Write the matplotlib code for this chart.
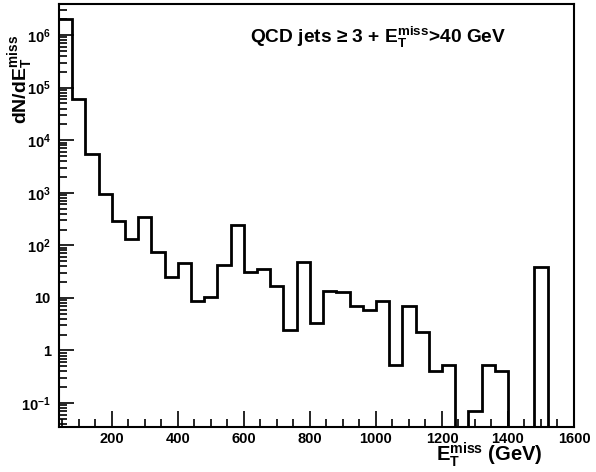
import numpy as np
import matplotlib
matplotlib.use("Agg")
import matplotlib.pyplot as plt
from matplotlib.ticker import FixedLocator, FixedFormatter, MultipleLocator, LogLocator, NullFormatter

plt.rcParams['font.family'] = ['Liberation Sans', 'DejaVu Sans']
plt.rcParams['font.weight'] = 'bold'
plt.rcParams['mathtext.fontset'] = 'custom'
plt.rcParams['mathtext.rm'] = 'Liberation Sans:bold'
plt.rcParams['mathtext.bf'] = 'Liberation Sans:bold'
plt.rcParams['mathtext.it'] = 'Liberation Sans:bold'
plt.rcParams['mathtext.default'] = 'bf'

# Histogram: bin edges every 40 GeV from 40 to 1600
bin_edges = np.arange(40, 1601, 40)
counts = [2.0e6, 6.1e4, 5.4e3, 950, 295, 132, 347, 74, 25.4, 47,
          8.65, 10.6, 43, 241, 30.8, 35.2, 16.7, 2.47, 48, 3.4,
          13.8, 13.0, 7.14, 5.9, 8.65, 0.54, 7.05, 2.23, 0.40, 0.52,
          0, 0.072, 0.52, 0.40, 0, 0, 38.4, 0, 0]

ytick_vals = [0.1, 1, 10, 100, 1e3, 1e4, 1e5, 1e6]
ytick_labels = [r'$10^{-1}$', '1', '10', r'$10^{2}$', r'$10^{3}$', r'$10^{4}$', r'$10^{5}$', r'$10^{6}$']
xtick_vals = [200, 400, 600, 800, 1000, 1200, 1400, 1600]

ymin, ymax = 0.035, 3.9e6
xmin, xmax = 40, 1600

fig = plt.figure(figsize=(5.96, 4.72), dpi=100)
ax = fig.add_axes([59/596, 45/472, (574-59)/596, (427-4)/472])

c = np.array(counts, dtype=float)
c_plot = np.where(c > 0, c, ymin)
ax.stairs(c_plot, bin_edges, color='black', linewidth=2.0, baseline=None)

ax.set_yscale('log')
ax.set_xlim(xmin, xmax)
ax.set_ylim(ymin, ymax)

ax.yaxis.set_major_locator(FixedLocator(ytick_vals))
ax.yaxis.set_major_formatter(FixedFormatter(ytick_labels))
ax.yaxis.set_minor_locator(LogLocator(base=10, subs=np.arange(2, 10), numticks=20))
ax.yaxis.set_minor_formatter(NullFormatter())

ax.xaxis.set_major_locator(FixedLocator(xtick_vals))
ax.xaxis.set_minor_locator(MultipleLocator(50))

ax.tick_params(axis='both', which='both', direction='in', top=False, right=False, width=1.2)
ax.tick_params(axis='y', which='major', length=10.5, pad=6, labelsize=10.5)
ax.tick_params(axis='y', which='minor', length=5.5)
ax.tick_params(axis='x', which='major', length=11.5, pad=3.5, labelsize=10.5)
ax.tick_params(axis='x', which='minor', length=5.5)
for s in ax.spines.values():
    s.set_linewidth(1.5)

fig.text(21/596, 1 - 35/472, r'$dN/dE_T^{miss}$', rotation=90, ha='center', va='top', fontsize=14)
fig.text(543/596, 1 - 461/472, r'$E_T^{miss}$ (GeV)', ha='right', va='baseline', fontsize=14.5)
fig.text(250/596, 1 - 43/472, 'QCD jets \u2265 3 + ' + r'$E_T^{miss}$' + '>40 GeV',
         ha='left', va='baseline', fontsize=13.8)

fig.savefig('out.png', dpi=100)
